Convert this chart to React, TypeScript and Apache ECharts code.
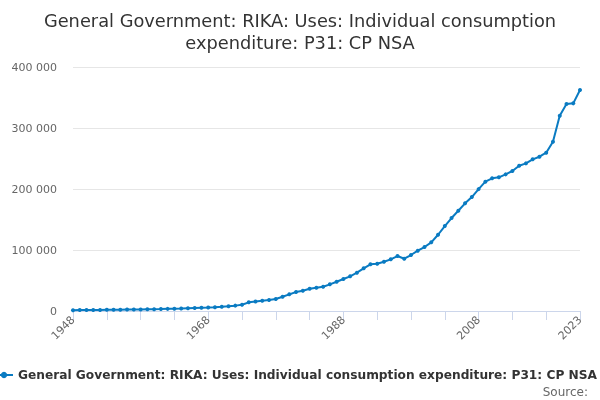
import React, { useEffect, useRef } from "react";
import * as echarts from "echarts";

const years: string[] = [];
for (let y = 1948; y <= 2023; y++) years.push(String(y));

const values: number[] = [
  1400, 1500, 1600, 1700, 1800, 1900, 2000, 2100, 2300, 2400,
  2600, 2800, 3000, 3200, 3500, 3700, 4000, 4400, 4800, 5200,
  5600, 6100, 6800, 7700, 8800, 10300, 14200, 15500, 16900, 18000,
  19700, 23400, 27300, 31100, 33300, 36600, 38200, 39800, 43700, 48000,
  52400, 56800, 62800, 70000, 76500, 77500, 80800, 84700, 90100, 85700,
  91800, 98900, 104900, 112600, 125000, 139300, 152400, 164400, 176500, 186800,
  199800, 212000, 217500, 219100, 224000, 229500, 238200, 242000, 248600, 252900,
  259500, 277500, 320100, 339300, 340400, 362200,
];

const seriesName = "General Government: RIKA: Uses: Individual consumption expenditure: P31: CP NSA";
const titleText = "General Government: RIKA: Uses: Individual consumption\nexpenditure: P31: CP NSA";

const fmt = (v: number) => String(v).replace(/\B(?=(\d{3})+(?!\d))/g, " ");

export default function App() {
  const ref = useRef<HTMLDivElement>(null);
  useEffect(() => {
    if (!ref.current) return;
    const chart = echarts.init(ref.current, null, { renderer: "svg" });
    chart.setOption({
      animation: false,
      textStyle: { fontFamily: "DejaVu Sans" },
      title: {
        text: titleText,
        left: "center",
        top: 4,
        textStyle: { fontSize: 17.8, fontWeight: "normal", color: "#333333", lineHeight: 22, fontFamily: "DejaVu Sans" },
      },
      grid: { left: 73, right: 20, top: 67, bottom: 89 },
      legend: {
        data: [seriesName],
        left: -11,
        bottom: 14,
        itemWidth: 18,
        itemHeight: 8,
        itemGap: 5,
        textStyle: { fontSize: 12.2, fontWeight: "bold", color: "#333333", fontFamily: "DejaVu Sans" },
      },
      graphic: [
        {
          type: "text",
          right: 12,
          bottom: 2,
          style: { text: "Source:", fontSize: 12, fill: "#666666", fontFamily: "DejaVu Sans" },
        },
      ],
      xAxis: {
        type: "category",
        data: years,
        boundaryGap: false,
        axisLine: { lineStyle: { color: "#ccd6eb" } },
        axisTick: {
          length: 9,
          interval: (i: number) => i % 5 === 0,
          lineStyle: { color: "#ccd6eb" },
        },
        axisLabel: {
          interval: (i: number) => i % 20 === 0 || i === years.length - 1,
          rotate: 45,
          color: "#666666",
          fontSize: 11,
          margin: 7,
        },
      },
      yAxis: {
        type: "value",
        min: 0,
        max: 400000,
        interval: 100000,
        axisLine: { show: false },
        axisTick: { show: false },
        splitLine: { lineStyle: { color: "#e6e6e6" } },
        axisLabel: { color: "#666666", fontSize: 11, formatter: (v: number) => fmt(v), margin: 16 },
      },
      series: [
        {
          name: seriesName,
          type: "line",
          data: values,
          symbol: "circle",
          symbolSize: 4,
          itemStyle: { color: "#0a7bc2" },
          lineStyle: { color: "#0a7bc2", width: 2 },
        },
      ],
    });
    return () => chart.dispose();
  }, []);
  return (
    <div
      ref={ref}
      style={{ position: "fixed", left: 0, top: 0, width: 600, height: 400, overflow: "hidden" }}
    />
  );
}
